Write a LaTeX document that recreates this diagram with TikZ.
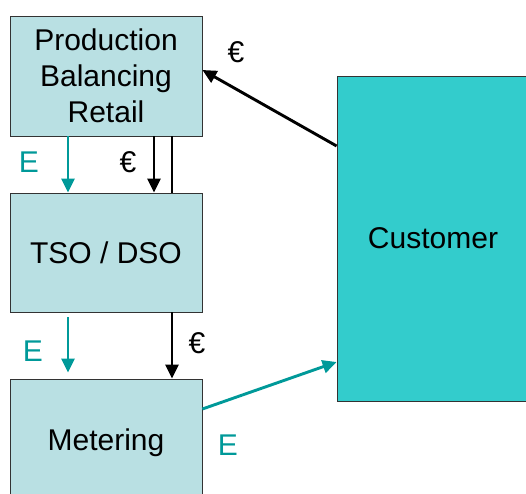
\documentclass[tikz,border=0pt]{standalone}
\usepackage{fontspec}
\setmainfont{Liberation Sans}
\usetikzlibrary{arrows.meta}

\definecolor{boxfill}{RGB}{185,224,227}
\definecolor{custfill}{RGB}{51,204,204}
\definecolor{energy}{RGB}{0,153,153}

\begin{document}
\begin{tikzpicture}[x=1pt,y=1pt,
    every node/.style={font=\fontsize{30}{36}\selectfont},
    party/.style={rectangle,draw=black!80,line width=0.8pt,fill=boxfill,
      inner sep=0pt,minimum width=192pt,minimum height=120pt,align=center},
    earrow/.style={draw=energy,line width=2.9pt,-{Triangle[length=14pt,width=13pt]}},
    marrow/.style={draw=black,line width=2.9pt,-{Triangle[length=14pt,width=13pt]}},
    mline/.style={draw=black,line width=2.9pt},
    elabel/.style={text=energy,inner sep=0pt},
    mlabel/.style={text=black,inner sep=0pt}]

    \useasboundingbox (0,0) rectangle (526,493);

    % The parties
    \node[party] (prod) at (106,417) {Production\\Balancing\\Retail};
    \node[party,minimum height=119pt] (tso) at (106,240.5) {TSO / DSO};
    \node[party,minimum height=128pt] (meter) at (106,50) {Metering};
    \node[party,fill=custfill,minimum height=325pt] (cust) at (433,254.5) {Customer};

    % Energy flows
    \draw[earrow] ([xshift=-38pt]prod.south) -- ([xshift=-38pt]tso.north);
    \draw[earrow] ([xshift=-38pt,yshift=-5pt]tso.south) -- ([xshift=-38pt,yshift=6pt]meter.north);
    \draw[earrow] ([yshift=34pt]meter.east) -- ([yshift=-123.5pt]cust.west);

    % Money flows
    \draw[marrow] ([xshift=48pt]prod.south) -- ([xshift=48pt]tso.north);
    \draw[mline] ([xshift=66pt]prod.south) -- ([xshift=66pt]tso.north);
    \draw[marrow] ([xshift=66pt]tso.south) -- ([xshift=66pt]meter.north);
    \draw[marrow] ([yshift=92.5pt]cust.west) -- ([yshift=6pt]prod.east);

    % Flow labels
    \node[elabel] (e1) at (29,331) {E};
    \node[mlabel] (m1) at (128,331) {€};
    \node[elabel] (e2) at (33,142) {E};
    \node[mlabel] (m2) at (197,150) {€};
    \node[elabel] (e3) at (228,48) {E};
    \node[mlabel] (m3) at (236,441) {€};

\end{tikzpicture}
\end{document}
